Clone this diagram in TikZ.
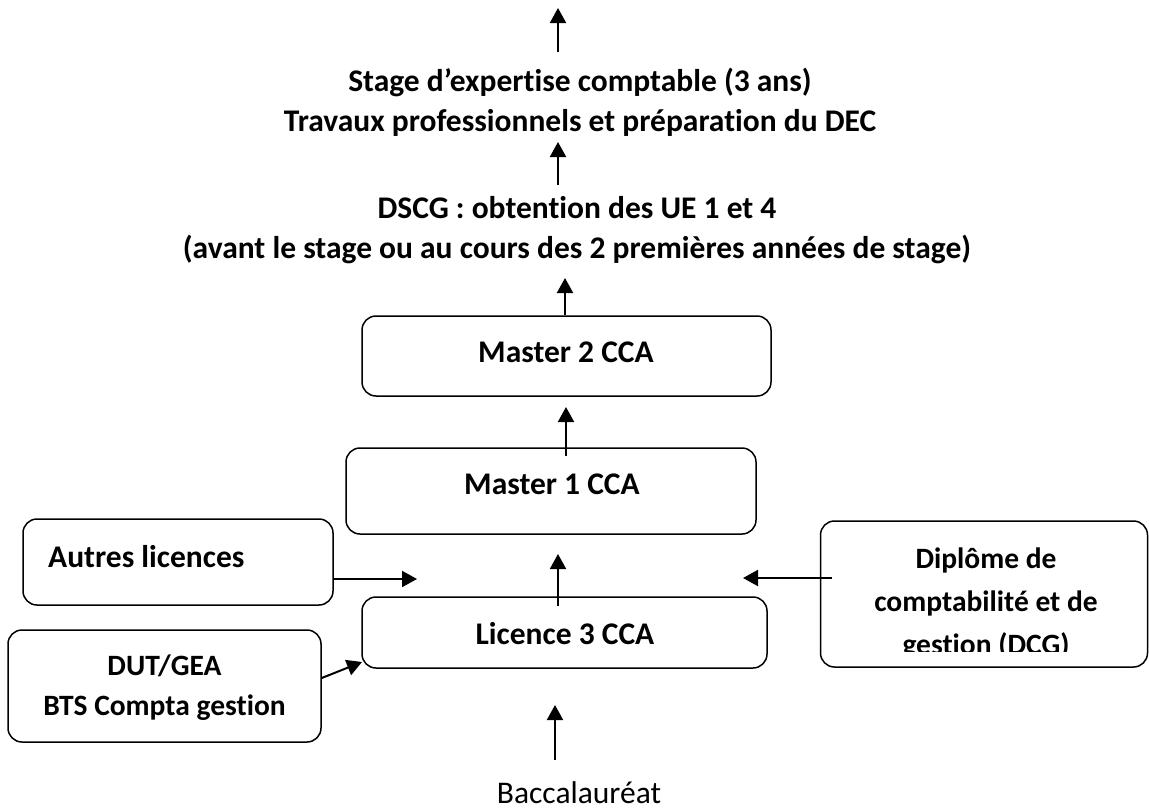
\documentclass[tikz,border=0pt]{standalone}
\usepackage{fontspec}
\setmainfont{Carlito}[Ligatures={NoCommon,TeX}]
\usetikzlibrary{arrows.meta}
\begin{document}
\begin{tikzpicture}[x=1pt,y=-1pt,
  box/.style={draw, line width=1.5pt, rounded corners=14pt, inner sep=0pt},
  lbl/.style={font=\fontsize{31.5}{40}\selectfont\bfseries, align=center, inner sep=0pt},
  arr/.style={line width=2pt, -{Triangle[length=15pt,width=16pt]}}]
\useasboundingbox (0,0) rectangle (1149,811);
% boxes
\node[box, minimum width=409pt, minimum height=80pt] (m2) at (566.5,356) {};
\node[box, minimum width=410pt, minimum height=86pt] (m1) at (551,491) {};
\node[box, minimum width=405pt, minimum height=71pt] (l3) at (564.5,632.5) {};
\node[box, minimum width=310pt, minimum height=86pt] (autres) at (178,562) {};
\node[box, minimum width=313pt, minimum height=112pt] (dut) at (164.5,686) {};
\node[box, minimum width=327pt, minimum height=146pt] (dcg) at (984,594) {};
% texts
\node[lbl] (stage) at (580,102) {Stage d’expertise comptable (3 ans)\\Travaux professionnels et préparation du DEC};
\node[lbl] (dscg) at (577,230) {DSCG : obtention des UE 1 et 4\\(avant le stage ou au cours des 2 premières années de stage)};
\node[lbl] at (566,352) {Master 2 CCA};
\node[lbl] at (552,484) {Master 1 CCA};
\node[lbl] at (565,634) {Licence 3 CCA};
\node[lbl, anchor=west] at (48,557) {Autres licences};
\node[lbl, font=\fontsize{29.5}{40}\selectfont\bfseries] at (164.5,688) {DUT/GEA\\BTS Compta gestion};
\begin{scope}
\clip (820,521) rectangle (1149,651);
\node[lbl, font=\fontsize{29.5}{43}\selectfont\bfseries] at (986,604) {Diplôme de\\comptabilité et de\\gestion (DCG)};
\end{scope}
\node[font=\fontsize{31.5}{40}\selectfont, inner sep=0pt, anchor=base] (bac) at (579,803) {Baccalauréat};
% free ends
\coordinate (c1t) at (558,8);
\coordinate (c1s) at (558,52);
\coordinate (c2t) at (558,142);
\coordinate (c2s) at (558,185);
\coordinate (c3t) at (565,278);
\coordinate (c4t) at (566,407);
\coordinate (c4s) at (566,456);
\coordinate (c5t) at (558,554);
\coordinate (c5s) at (558,606);
\coordinate (c6t) at (417,579);
\coordinate (c7t) at (743,578);
\coordinate (c7s) at (832,578);
\coordinate (c8t) at (362,662);
\coordinate (c9t) at (555,705);
\coordinate (c9s) at (555,760);
% connectors
\draw[arr] (c1s) -- (c1t);
\draw[arr] (c2s) -- (c2t);
\draw[arr] (m2.north -| c3t) -- (c3t);
\draw[arr] (c4s) -- (c4t);
\draw[arr] (c5s) -- (c5t);
\draw[arr] (autres.east |- c6t) -- (c6t);
\draw[arr] (c7s) -- (c7t);
\draw[arr] (dut.east |- 0,678) -- (c8t);
\draw[arr] (c9s) -- (c9t);
\end{tikzpicture}
\end{document}
